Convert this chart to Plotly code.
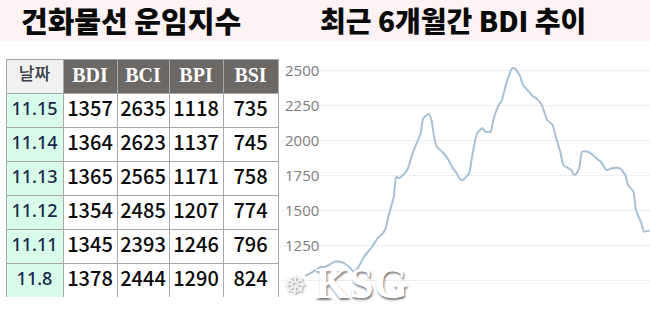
import plotly.graph_objects as go

# ---------------- data ----------------
table_dates = ["11.15", "11.14", "11.13", "11.12", "11.11", "11.8"]
bdi_vals = [1357, 1364, 1365, 1354, 1345, 1378]
bci_vals = [2635, 2623, 2565, 2485, 2393, 2444]
bpi_vals = [1118, 1137, 1171, 1207, 1246, 1290]
bsi_vals = [735, 745, 758, 774, 796, 824]
table_header = ["날짜", "BDI", "BCI", "BPI", "BSI"]

trend_days = [0, 2, 4, 6, 7, 9, 11, 13, 15, 17, 18, 19, 20, 22, 25, 27, 29, 30, 31, 33,
              34, 35, 38, 40, 43, 44, 46, 47, 48, 49, 51, 53, 55, 56, 58, 59, 61, 62, 64,
              66, 67, 69, 70, 72, 73, 75, 77, 78, 80, 81, 83, 85, 86, 88, 90, 92, 93, 95,
              96, 98, 99, 100, 101, 102, 103, 105, 107, 109, 110, 112, 114, 117, 119, 120,
              122, 123, 125, 126, 127, 128]
trend_bdi = [1036, 1055, 1078, 1102, 1098, 1114, 1137, 1137, 1121, 1090, 1066, 1078, 1102,
             1173, 1244, 1304, 1340, 1375, 1458, 1600, 1743, 1731, 1790, 1909, 2052, 2158,
             2189, 2146, 2027, 1956, 1920, 1873, 1802, 1778, 1719, 1724, 1767, 1873, 2052,
             2087, 2063, 2063, 2146, 2253, 2277, 2419, 2514, 2514, 2455, 2395, 2352, 2312,
             2300, 2253, 2146, 2111, 2040, 1909, 1826, 1802, 1790, 1755, 1767, 1814, 1920,
             1920, 1897, 1861, 1849, 1790, 1802, 1802, 1755, 1684, 1636, 1506, 1411, 1351,
             1355, 1357]
y_tick_vals = [1000, 1250, 1500, 1750, 2000, 2250, 2500]
y_tick_text = ["", "1250", "1500", "1750", "2000", "2250", "2500"]

title_left = "건화물선 운임지수"
title_right = "최근 6개월간 BDI 추이"
watermark = "KSG"

W, H = 650, 310
KR = "Noto Sans CJK KR"

fig = go.Figure()

# ---------------- table ----------------
fig.add_trace(go.Table(
    domain=dict(x=[6 / W, 278 / W], y=[13 / H, 251 / H]),
    columnwidth=[57, 54, 52, 54, 55],
    header=dict(
        values=table_header,
        fill_color=["#f1f1f1", "#6b6866", "#6b6866", "#6b6866", "#6b6866"],
        line=dict(color="#a8a8a8", width=1),
        align="center",
        height=34,
        font=dict(color=["#3a3f47", "white", "white", "white", "white"],
                  family=[KR, "Liberation Serif", "Liberation Serif", "Liberation Serif", "Liberation Serif"],
                  size=[17, 20, 20, 20, 20],
                  weight=[500, 700, 700, 700, 700]),
    ),
    cells=dict(
        values=[table_dates, bdi_vals, bci_vals, bpi_vals, bsi_vals],
        fill_color=["#d9fbea", "white", "white", "white", "white"],
        line=dict(color="#a8a8a8", width=1),
        align="center",
        height=34,
        font=dict(color=["#17294a", "#0a0a0a", "#0a0a0a", "#0a0a0a", "#0a0a0a"],
                  family=["Noto Sans", KR, KR, KR, KR], size=[18, 20, 20, 20, 20],
                  weight=[500, 500, 500, 500, 500]),
    ),
))

# ---------------- line chart ----------------
fig.add_trace(go.Scatter(
    x=trend_days, y=trend_bdi, mode="lines",
    line=dict(color="#a9c0d4", width=2, shape="spline", smoothing=0.6),
    hoverinfo="skip", showlegend=False,
))

fig.update_xaxes(domain=[282 / W, 1], range=[-8.5, 128.2], visible=False)
fig.update_yaxes(domain=[0, 265 / H], range=[793.5, 2680],
                 tickvals=y_tick_vals, ticktext=y_tick_text,
                 ticklabelposition="inside", showgrid=True, gridcolor="#eeeeee",
                 gridwidth=1, zeroline=False, showline=False,
                 tickfont=dict(family="Open Sans", size=15, color="#7d7d7d"))

# ---------------- titles / background ----------------
fig.add_shape(type="rect", xref="paper", yref="paper", x0=0, x1=1, y0=1 - 41 / H, y1=1,
              fillcolor="#fdf3f5", line=dict(width=0), layer="below")
fig.add_annotation(text=title_left, xref="paper", yref="paper", x=131 / W, y=1 - 20 / H,
                   showarrow=False, xanchor="center", yanchor="middle",
                   font=dict(family=KR, size=29, color="#0a0a0a", weight=900))
fig.add_annotation(text=title_right, xref="paper", yref="paper", x=453 / W, y=1 - 20 / H,
                   showarrow=False, xanchor="center", yanchor="middle",
                   font=dict(family=KR, size=28, color="#0a0a0a", weight=900))

# watermark (logo wheel + KSG)
fig.add_annotation(text="☸", xref="paper", yref="paper", x=294 / W, y=1 - 285 / H,
                   showarrow=False, xanchor="center", yanchor="middle",
                   font=dict(family="DejaVu Sans", size=26, color="#f4f4f4",
                             shadow="1px 1px 2px #9a9a9a"))
fig.add_annotation(text=watermark, xref="paper", yref="paper", x=361 / W, y=1 - 283 / H,
                   showarrow=False, xanchor="center", yanchor="middle",
                   font=dict(family="Liberation Serif", size=44, color="white", weight=700,
                             shadow="1px 2px 2px #7a7a7a"))

fig.update_layout(width=W, height=H, margin=dict(l=0, r=0, t=0, b=0),
                  paper_bgcolor="white", plot_bgcolor="white", showlegend=False)

fig.write_html("out.html")
